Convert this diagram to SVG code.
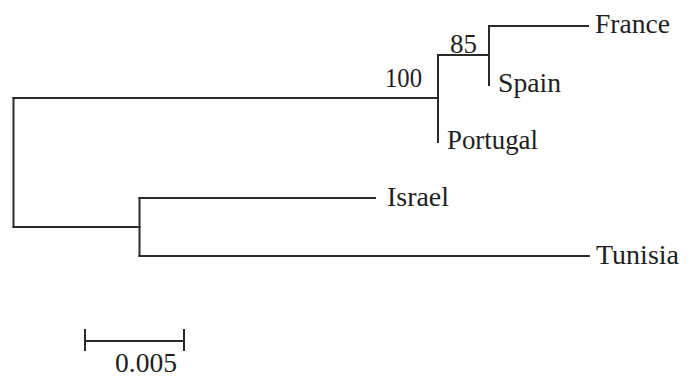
<svg xmlns="http://www.w3.org/2000/svg" width="695" height="379" viewBox="0 0 695 379">
<style>
.br{fill:none;stroke:#2a2a2a;stroke-width:2;stroke-linecap:square}
.t{font-family:"Liberation Serif","Times New Roman",serif;font-size:27px;fill:#1e1e1e}
</style>
<rect width="695" height="379" fill="#fff"/>
<g id="connectors">
<path class="br" d="M13.5,98 V227"/>
<path class="br" d="M13.5,98 H438"/>
<path class="br" d="M438,55 V142"/>
<path class="br" d="M438,55 H489"/>
<path class="br" d="M489,26 V85"/>
<path class="br" d="M489,26 H588"/>
<path class="br" d="M13.5,227 H139.5"/>
<path class="br" d="M139.5,198 V256"/>
<path class="br" d="M139.5,198 H375"/>
<path class="br" d="M139.5,256 H589"/>
</g>
<g id="France"><text class="t" x="595" y="33" textLength="75" lengthAdjust="spacingAndGlyphs">France</text></g>
<g id="Spain"><text class="t" x="498" y="92" textLength="63" lengthAdjust="spacingAndGlyphs">Spain</text></g>
<g id="Portugal"><text class="t" x="447" y="149" textLength="91" lengthAdjust="spacingAndGlyphs">Portugal</text></g>
<g id="Israel"><text class="t" x="387" y="206" textLength="62" lengthAdjust="spacingAndGlyphs">Israel</text></g>
<g id="Tunisia"><text class="t" x="596" y="264" textLength="83" lengthAdjust="spacingAndGlyphs">Tunisia</text></g>
<g id="bootstrap100"><text class="t" x="385" y="87" textLength="37" lengthAdjust="spacingAndGlyphs">100</text></g>
<g id="bootstrap85"><text class="t" x="450" y="52.5" textLength="27" lengthAdjust="spacingAndGlyphs">85</text></g>
<g id="scalebar">
<path class="br" d="M85,341 H184 M85,330 V350 M184,330 V350"/>
<text class="t" x="115" y="372" textLength="62" lengthAdjust="spacingAndGlyphs">0.005</text>
</g>
</svg>
